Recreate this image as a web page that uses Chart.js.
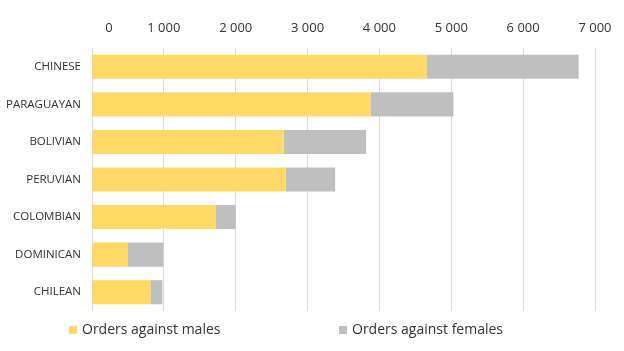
<!DOCTYPE html>
<html>
<head>
<meta charset="utf-8">
<script src="https://cdn.jsdelivr.net/npm/chart.js@4.4.1/dist/chart.umd.min.js"></script>
<style>
    html, body { margin: 0; padding: 0; background: #fff; }
    #wrap { position: relative; width: 624px; height: 351px; }
    #legend { position: absolute; left: 0; top: 320px; width: 624px; height: 20px;
              font-family: 'Open Sans', sans-serif; font-size: 14px; color: #333; }
    .item { position: absolute; top: 0; line-height: 18px; white-space: nowrap; }
    .box { display: inline-block; width: 8px; height: 8px; margin-right: 5px; vertical-align: 0px; }
</style>
</head>
<body>
<div id="wrap">
    <canvas id="chart" width="624" height="351"></canvas>
    <div id="legend"></div>
</div>
<script>
// Chart data
const categories = ['CHINESE', 'PARAGUAYAN', 'BOLIVIAN', 'PERUVIAN', 'COLOMBIAN', 'DOMINICAN', 'CHILEAN'];
const males = [4660, 3876, 2666, 2698, 1725, 501, 821];
const females = [2113, 1154, 1149, 686, 274, 491, 157];
const seriesNames = ['Orders against males', 'Orders against females'];
const seriesColors = ['#FFD966', '#BFBFBF'];
const xTicks = [0, 1000, 2000, 3000, 4000, 5000, 6000, 7000];

function formatThousands(v) {
    return String(v).replace(/\B(?=(\d{3})+(?!\d))/g, ' ');
}

// the "0" label sits a bit right of its gridline in the original
const shiftZeroLabel = {
    id: 'shiftZeroLabel',
    beforeDraw(chart) {
        const items = chart.scales.x.getLabelItems();
        if (items.length && !items[0]._shifted) {
            items[0].options.translation[0] += 17;
            items[0]._shifted = true;
        }
    }
};

const ctx = document.getElementById('chart').getContext('2d');
const chart = new Chart(ctx, {
    type: 'bar',
    data: {
        labels: categories,
        datasets: [{
            label: seriesNames[0],
            data: males,
            backgroundColor: seriesColors[0]
        }, {
            label: seriesNames[1],
            data: females,
            backgroundColor: seriesColors[1]
        }]
    },
    options: {
        indexAxis: 'y',
        responsive: false,
        animation: false,
        layout: { padding: { top: 0, right: 29, bottom: 40, left: 0 } },
        datasets: { bar: { categoryPercentage: 1, barPercentage: 0.64 } },
        plugins: {
            legend: { display: false },
            tooltip: { enabled: false }
        },
        scales: {
            x: {
                position: 'top',
                stacked: true,
                min: xTicks[0],
                max: xTicks[xTicks.length - 1],
                afterBuildTicks: scale => {
                    scale.ticks = xTicks.map(v => ({ value: v }));
                },
                afterFit: scale => { scale.height = 48; },
                grid: { color: '#D9D9D9', lineWidth: 1, drawTicks: false },
                border: { display: false },
                ticks: {
                    padding: 12,
                    color: '#333',
                    font: { family: 'Open Sans', size: 13 },
                    callback: value => formatThousands(value)
                }
            },
            y: {
                stacked: true,
                afterFit: scale => { scale.width = 92; },
                grid: { display: false, drawTicks: false },
                border: { display: false },
                ticks: {
                    padding: 11,
                    color: '#333',
                    font: { family: 'Open Sans', size: 11.5 }
                }
            }
        }
    },
    plugins: [shiftZeroLabel]
});

// Legend
const legendPositions = [69, 339];
const legend = document.getElementById('legend');
legend.innerHTML = seriesNames.map((name, i) => `
    <span class="item" style="left:${legendPositions[i]}px">
        <span class="box" style="background:${seriesColors[i]}"></span>${name}
    </span>
`).join('');
</script>
</body>
</html>
